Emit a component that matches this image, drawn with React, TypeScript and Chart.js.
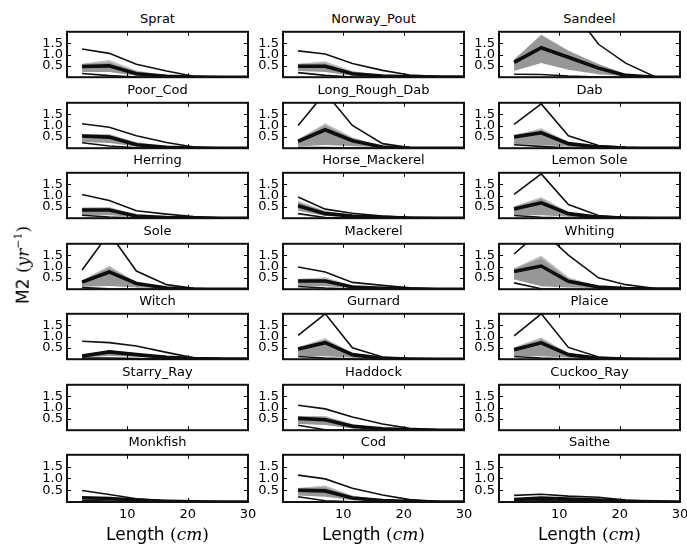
import React, { useEffect, useRef } from "react";
import { Chart, registerables } from "chart.js";
Chart.register(...registerables);

// Length bins (cm)
const LENGTHS = [2.5, 7, 11.5, 16.5, 21, 26, 31];
const SPECIES = [
  "Sprat", "Norway_Pout", "Sandeel",
  "Poor_Cod", "Long_Rough_Dab", "Dab",
  "Herring", "Horse_Mackerel", "Lemon Sole",
  "Sole", "Mackerel", "Whiting",
  "Witch", "Gurnard", "Plaice",
  "Starry_Ray", "Haddock", "Cuckoo_Ray",
  "Monkfish", "Cod", "Saithe",
];
const Y_TICKS = [0.5, 1.0, 1.5];
const X_TICKS = [10, 20, 30];

// thin upper black line
const UPPER: Record<string, number[] | null> = {
  Sprat: [1.24, 1.05, 0.57, 0.27, 0.04, 0, 0],
  Norway_Pout: [1.16, 1.02, 0.6, 0.3, 0.1, 0.03, 0.01],
  Sandeel: [3.8, 3.6, 3.2, 1.45, 0.62, 0, 0],
  Poor_Cod: [1.08, 0.92, 0.55, 0.25, 0.05, 0, 0],
  Long_Rough_Dab: [1.0, 2.45, 1.0, 0.2, 0.03, 0, 0],
  Dab: [1.05, 1.95, 0.55, 0.12, 0.04, 0, 0],
  Herring: [1.04, 0.78, 0.33, 0.18, 0.07, 0.01, 0],
  Horse_Mackerel: [0.93, 0.4, 0.22, 0.1, 0.03, 0, 0],
  "Lemon Sole": [1.05, 1.95, 0.6, 0.12, 0.03, 0, 0],
  Sole: [0.85, 2.48, 0.8, 0.2, 0.04, 0, 0],
  Mackerel: [0.98, 0.76, 0.3, 0.17, 0.06, 0.01, 0],
  Whiting: [1.55, 2.6, 1.5, 0.5, 0.2, 0.03, 0],
  Witch: [0.79, 0.73, 0.58, 0.3, 0.06, 0.02, 0.01],
  Gurnard: [1.05, 2.0, 0.5, 0.1, 0.02, 0, 0],
  Plaice: [1.03, 2.0, 0.52, 0.1, 0.02, 0, 0],
  Starry_Ray: null,
  Haddock: [1.1, 0.94, 0.58, 0.27, 0.08, 0.02, 0.01],
  Cuckoo_Ray: null,
  Monkfish: [0.49, 0.32, 0.14, 0.04, 0.01, 0, 0],
  Cod: [1.14, 0.98, 0.58, 0.3, 0.1, 0.02, 0.01],
  Saithe: [0.28, 0.33, 0.25, 0.2, 0.08, 0.02, 0.01],
};

// top of light grey band
const BAND_HI: Record<string, number[] | null> = {
  Sprat: [0.62, 0.78, 0.32, 0.1, 0.02, 0, 0],
  Norway_Pout: [0.62, 0.72, 0.3, 0.1, 0.03, 0.01, 0],
  Sandeel: [0.8, 1.9, 1.2, 0.6, 0.15, 0, 0],
  Poor_Cod: [0.65, 0.65, 0.3, 0.1, 0.02, 0, 0],
  Long_Rough_Dab: [0.42, 1.12, 0.5, 0.1, 0.01, 0, 0],
  Dab: [0.6, 0.9, 0.3, 0.08, 0.01, 0, 0],
  Herring: [0.5, 0.52, 0.18, 0.05, 0.01, 0, 0],
  Horse_Mackerel: [0.78, 0.35, 0.17, 0.07, 0.02, 0, 0],
  "Lemon Sole": [0.55, 0.95, 0.3, 0.06, 0.01, 0, 0],
  Sole: [0.42, 1.05, 0.35, 0.08, 0.01, 0, 0],
  Mackerel: [0.48, 0.55, 0.18, 0.06, 0.01, 0, 0],
  Whiting: [0.95, 1.5, 0.55, 0.15, 0.05, 0.01, 0],
  Witch: [0.2, 0.42, 0.3, 0.12, 0.03, 0.01, 0],
  Gurnard: [0.55, 0.95, 0.3, 0.06, 0.01, 0, 0],
  Plaice: [0.55, 0.98, 0.3, 0.06, 0.01, 0, 0],
  Starry_Ray: null,
  Haddock: [0.65, 0.65, 0.3, 0.1, 0.03, 0.01, 0],
  Cuckoo_Ray: null,
  Monkfish: [0.25, 0.22, 0.1, 0.04, 0.01, 0, 0],
  Cod: [0.62, 0.72, 0.3, 0.1, 0.03, 0.01, 0],
  Saithe: [0.15, 0.22, 0.17, 0.1, 0.04, 0.01, 0],
};

// top of dark grey band
const BAND_MID: Record<string, number[] | null> = {
  Sprat: [0.58, 0.65, 0.25, 0.07, 0.01, 0, 0],
  Norway_Pout: [0.58, 0.62, 0.22, 0.07, 0.02, 0, 0],
  Sandeel: [0.78, 1.85, 1.15, 0.57, 0.14, 0, 0],
  Poor_Cod: [0.6, 0.58, 0.22, 0.07, 0.01, 0, 0],
  Long_Rough_Dab: [0.38, 1.0, 0.45, 0.08, 0.01, 0, 0],
  Dab: [0.55, 0.8, 0.25, 0.06, 0.01, 0, 0],
  Herring: [0.45, 0.45, 0.14, 0.04, 0.01, 0, 0],
  Horse_Mackerel: [0.7, 0.3, 0.14, 0.06, 0.02, 0, 0],
  "Lemon Sole": [0.5, 0.85, 0.25, 0.05, 0.01, 0, 0],
  Sole: [0.38, 0.95, 0.3, 0.07, 0.01, 0, 0],
  Mackerel: [0.42, 0.45, 0.15, 0.05, 0.01, 0, 0],
  Whiting: [0.9, 1.35, 0.45, 0.12, 0.04, 0.01, 0],
  Witch: [0.18, 0.38, 0.26, 0.1, 0.03, 0.01, 0],
  Gurnard: [0.5, 0.85, 0.25, 0.05, 0.01, 0, 0],
  Plaice: [0.5, 0.88, 0.25, 0.05, 0.01, 0, 0],
  Starry_Ray: null,
  Haddock: [0.6, 0.58, 0.25, 0.08, 0.02, 0, 0],
  Cuckoo_Ray: null,
  Monkfish: [0.22, 0.19, 0.09, 0.03, 0.01, 0, 0],
  Cod: [0.58, 0.62, 0.22, 0.07, 0.02, 0, 0],
  Saithe: [0.13, 0.2, 0.15, 0.09, 0.03, 0.01, 0],
};

// thick mean line
const MEAN: Record<string, number[] | null> = {
  Sprat: [0.47, 0.5, 0.15, 0.04, 0.01, 0, 0],
  Norway_Pout: [0.48, 0.48, 0.15, 0.05, 0.02, 0.01, 0],
  Sandeel: [0.65, 1.3, 0.88, 0.4, 0.08, 0, 0],
  Poor_Cod: [0.54, 0.49, 0.15, 0.04, 0.01, 0, 0],
  Long_Rough_Dab: [0.3, 0.81, 0.33, 0.05, 0.01, 0, 0],
  Dab: [0.5, 0.68, 0.2, 0.05, 0.01, 0, 0],
  Herring: [0.36, 0.36, 0.1, 0.03, 0.01, 0, 0],
  Horse_Mackerel: [0.55, 0.2, 0.1, 0.04, 0.01, 0, 0],
  "Lemon Sole": [0.4, 0.68, 0.2, 0.04, 0.01, 0, 0],
  Sole: [0.31, 0.76, 0.25, 0.05, 0.01, 0, 0],
  Mackerel: [0.36, 0.36, 0.1, 0.04, 0.01, 0, 0],
  Whiting: [0.78, 1.02, 0.35, 0.1, 0.03, 0.01, 0],
  Witch: [0.14, 0.32, 0.2, 0.08, 0.03, 0.01, 0],
  Gurnard: [0.45, 0.73, 0.2, 0.04, 0.01, 0, 0],
  Plaice: [0.42, 0.72, 0.2, 0.04, 0.01, 0, 0],
  Starry_Ray: null,
  Haddock: [0.52, 0.46, 0.17, 0.06, 0.02, 0, 0],
  Cuckoo_Ray: null,
  Monkfish: [0.18, 0.15, 0.08, 0.03, 0.01, 0, 0],
  Cod: [0.5, 0.47, 0.17, 0.06, 0.02, 0, 0],
  Saithe: [0.1, 0.17, 0.12, 0.08, 0.03, 0.01, 0],
};

// bottom of grey band
const BAND_LO: Record<string, number[] | null> = {
  Sprat: [0.2, 0.2, 0.04, 0.01, 0, 0, 0],
  Norway_Pout: [0.25, 0.2, 0.04, 0.01, 0, 0, 0],
  Sandeel: [0.25, 0.6, 0.3, 0.1, 0.02, 0, 0],
  Poor_Cod: [0.25, 0.2, 0.05, 0.01, 0, 0, 0],
  Long_Rough_Dab: [0.05, 0.12, 0.06, 0.01, 0, 0, 0],
  Dab: [0.15, 0.12, 0.04, 0.01, 0, 0, 0],
  Herring: [0.12, 0.1, 0.02, 0, 0, 0, 0],
  Horse_Mackerel: [0.3, 0.07, 0.03, 0.01, 0, 0, 0],
  "Lemon Sole": [0.1, 0.1, 0.04, 0.01, 0, 0, 0],
  Sole: [0.08, 0.12, 0.05, 0.01, 0, 0, 0],
  Mackerel: [0.12, 0.1, 0.03, 0.01, 0, 0, 0],
  Whiting: [0.4, 0.1, 0.05, 0.02, 0, 0, 0],
  Witch: [0.05, 0.12, 0.08, 0.03, 0.01, 0, 0],
  Gurnard: [0.12, 0.1, 0.04, 0.01, 0, 0, 0],
  Plaice: [0.12, 0.1, 0.04, 0.01, 0, 0, 0],
  Starry_Ray: null,
  Haddock: [0.25, 0.2, 0.05, 0.01, 0, 0, 0],
  Cuckoo_Ray: null,
  Monkfish: [0.08, 0.06, 0.03, 0.01, 0, 0, 0],
  Cod: [0.25, 0.2, 0.05, 0.01, 0, 0, 0],
  Saithe: [0.04, 0.08, 0.06, 0.04, 0.01, 0, 0],
};

// thin lower black line
const LOWER: Record<string, number[] | null> = {
  Sprat: [0.16, 0.07, 0.01, 0, 0, 0, 0],
  Norway_Pout: [0.2, 0.08, 0.01, 0, 0, 0, 0],
  Sandeel: [0.13, 0.12, 0.05, 0.01, 0, 0, 0],
  Poor_Cod: [0.24, 0.1, 0.02, 0, 0, 0, 0],
  Long_Rough_Dab: [0.03, 0.03, 0.01, 0, 0, 0, 0],
  Dab: [0.15, 0.08, 0.01, 0, 0, 0, 0],
  Herring: [0.13, 0.05, 0.01, 0, 0, 0, 0],
  Horse_Mackerel: [0.2, 0.03, 0.01, 0, 0, 0, 0],
  "Lemon Sole": [0.12, 0.04, 0.01, 0, 0, 0, 0],
  Sole: [0.07, 0.02, 0.01, 0, 0, 0, 0],
  Mackerel: [0.12, 0.05, 0.01, 0, 0, 0, 0],
  Whiting: [0.28, 0.02, 0, 0, 0, 0, 0],
  Witch: [0.05, 0.05, 0.03, 0.01, 0, 0, 0],
  Gurnard: [0.12, 0.05, 0.01, 0, 0, 0, 0],
  Plaice: [0.12, 0.05, 0.01, 0, 0, 0, 0],
  Starry_Ray: null,
  Haddock: [0.22, 0.02, 0, 0, 0, 0, 0],
  Cuckoo_Ray: null,
  Monkfish: [0.06, 0.04, 0.02, 0.01, 0, 0, 0],
  Cod: [0.22, 0.05, 0.01, 0, 0, 0, 0],
  Saithe: [0.03, 0.05, 0.04, 0.02, 0.01, 0, 0],
};

// layout
const COL_LEFT = [67, 283, 499];
const ROW_TOP = [30, 100.5, 171, 241.5, 312, 382.5, 453];
const PW = 181;
const PH = 49;
const AXIS_W = 44;
const PAD_T = 10;
const PAD_B = 10;
const PAD_R = 14;
const XAXIS_H = 22;
const FONT = "'DejaVu Sans', sans-serif";

const framePlugin = {
  id: "frame",
  afterDatasetsDraw(chart: any) {
    const { ctx, chartArea: a, scales } = chart;
    const x = scales.x;
    const y = scales.y;
    ctx.save();
    ctx.strokeStyle = "#000";
    ctx.lineWidth = 1;
    ctx.beginPath();
    for (const t of [10, 20]) {
      const px = Math.round(x.getPixelForValue(t)) + 0.5;
      ctx.moveTo(px, a.top);
      ctx.lineTo(px, a.top + 4);
      ctx.moveTo(px, a.bottom);
      ctx.lineTo(px, a.bottom - 4);
    }
    for (const t of Y_TICKS) {
      const py = Math.round(y.getPixelForValue(t)) + 0.5;
      ctx.moveTo(a.left, py);
      ctx.lineTo(a.left + 4, py);
      ctx.moveTo(a.right, py);
      ctx.lineTo(a.right - 4, py);
    }
    ctx.stroke();
    ctx.lineWidth = 2;
    ctx.strokeStyle = "#111";
    ctx.strokeRect(a.left, a.top, a.right - a.left, a.bottom - a.top);
    ctx.restore();
  },
};

function pts(arr: number[] | null) {
  if (!arr) return [];
  return LENGTHS.map((x, i) => ({ x, y: arr[i] }));
}

function Panel({ idx }: { idx: number }) {
  const ref = useRef<HTMLCanvasElement | null>(null);
  const name = SPECIES[idx];
  const row = Math.floor(idx / 3);
  const col = idx % 3;
  const isBottom = row === ROW_TOP.length - 1;
  const L = COL_LEFT[col];
  const T = ROW_TOP[row];
  const cw = AXIS_W + PW + PAD_R;
  const ch = PAD_T + PH + PAD_B + (isBottom ? XAXIS_H : 0);

  useEffect(() => {
    if (!ref.current) return;
    const line = (data: any[], color: string, width: number, order: number, extra: any = {}) => ({
      data,
      borderColor: color,
      borderWidth: width,
      pointRadius: 0,
      tension: 0,
      fill: false,
      order,
      clip: 0,
      ...extra,
    });
    const datasets = [
      line(pts(MEAN[name]), "#0d0d0d", 3.6, 0),
      line(pts(UPPER[name]), "#111", 1.6, 1),
      line(pts(LOWER[name]), "#111", 1.6, 1),
      line(pts(BAND_MID[name]), "rgba(0,0,0,0)", 0, 3, { fill: 5, backgroundColor: "#979797" }),
      line(pts(BAND_HI[name]), "#ffffff", 1, 4, { fill: 5, backgroundColor: "#bdbdbd" }),
      line(pts(BAND_LO[name]), "#ffffff", 1.2, 2),
    ];
    const chart = new Chart(ref.current, {
      type: "line",
      data: { datasets },
      plugins: [framePlugin],
      options: {
        animation: false,
        responsive: false,
        events: [],
        layout: { padding: { left: 0, right: PAD_R, top: PAD_T, bottom: PAD_B } },
        plugins: {
          legend: { display: false },
          tooltip: { enabled: false },
          title: { display: false },
        },
        scales: {
          x: {
            type: "linear",
            min: 0,
            max: 30,
            display: isBottom,
            grid: { display: false, drawTicks: false },
            border: { display: false },
            ticks: {
              stepSize: 10,
              autoSkip: false,
              maxRotation: 0,
              padding: 5,
              color: "#000",
              font: { family: FONT, size: 13 },
              callback: (v: any) => (X_TICKS.includes(Number(v)) ? String(v) : ""),
            },
            afterFit: (s: any) => {
              s.height = isBottom ? XAXIS_H : 0;
            },
          },
          y: {
            type: "linear",
            min: 0,
            max: 2,
            grid: { display: false, drawTicks: false },
            border: { display: false },
            ticks: {
              stepSize: 0.5,
              autoSkip: false,
              padding: 4,
              color: "#000",
              font: { family: FONT, size: 13 },
              callback: (v: any) => (Y_TICKS.includes(Number(v)) ? Number(v).toFixed(1) : ""),
            },
            afterFit: (s: any) => {
              s.width = AXIS_W;
            },
          },
        },
      } as any,
    });
    return () => chart.destroy();
  }, [name]);

  return (
    <>
      <div
        style={{
          position: "absolute",
          left: L,
          top: T - 19,
          width: PW,
          height: 16,
          lineHeight: "16px",
          textAlign: "center",
          fontFamily: FONT,
          fontSize: 13,
          color: "#000",
          whiteSpace: "nowrap",
        }}
      >
        {name}
      </div>
      <canvas
        ref={ref}
        width={cw}
        height={ch}
        style={{
          position: "absolute",
          left: L - AXIS_W,
          top: T - PAD_T,
          width: cw,
          height: ch,
        }}
      />
    </>
  );
}

export default function App() {
  return (
    <div
      style={{
        position: "absolute",
        left: 0,
        top: 0,
        width: 687,
        height: 544,
        background: "#fff",
        overflow: "hidden",
      }}
    >
      {SPECIES.map((_, i) => (
        <Panel key={i} idx={i} />
      ))}
      <div
        style={{
          position: "absolute",
          left: 22,
          top: 265,
          transform: "translate(-50%, -50%) rotate(-90deg)",
          whiteSpace: "nowrap",
          fontFamily: FONT,
          fontSize: 17,
          color: "#000",
        }}
      >
        M2{" "}
        <span style={{ fontFamily: "'DejaVu Serif', serif" }}>
          (<i>yr</i>
          <sup style={{ fontSize: 11 }}>−1</sup>)
        </span>
      </div>
      {COL_LEFT.map((l, i) => (
        <div
          key={i}
          style={{
            position: "absolute",
            left: l,
            top: 524,
            width: PW,
            textAlign: "center",
            fontFamily: FONT,
            fontSize: 17,
            lineHeight: "20px",
            color: "#000",
            whiteSpace: "nowrap",
          }}
        >
          Length{" "}
          <span style={{ fontFamily: "'DejaVu Serif', serif" }}>
            (<i>cm</i>)
          </span>
        </div>
      ))}
    </div>
  );
}
